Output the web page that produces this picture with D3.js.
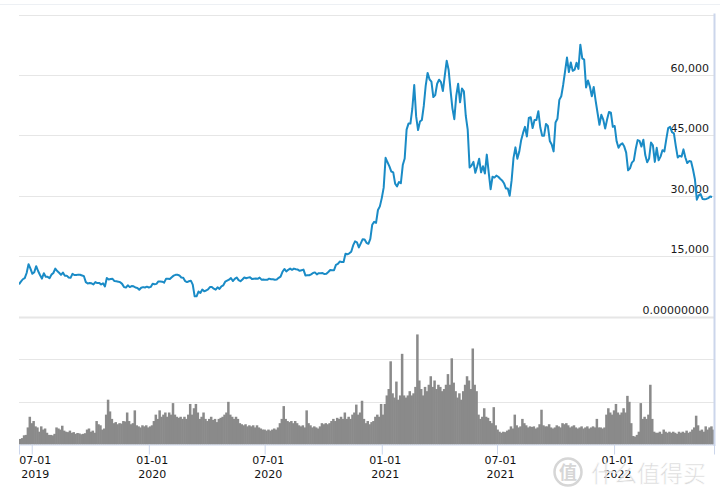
<!DOCTYPE html>
<html><head><meta charset="utf-8">
<script src="https://cdn.jsdelivr.net/npm/d3@7"></script>
<style>body{margin:0;background:#fff}svg{display:block}</style>
</head><body>
<svg id="chart" width="720" height="498"></svg>
<script>
// ---- data: 3-day samples starting 2019-06-11 ----
const startDate = "2019-06-11";
const stepDays = 3;
const price = [
 // 2019 Jun
 8000, 8650, 9250, 9530, 10800, 13000, 11900,
 // Jul
 10600, 11000, 12500, 11300, 10300, 9400, 10750, 9850, 9850, 9500,
 // Aug
 10400, 10800, 11900, 11300, 10850, 10350, 10900, 10100, 10150, 9700, 9600,
 // Sep
 10600, 10300, 10300, 10400, 10350, 10200, 10000, 8550, 8200, 8300,
 // Oct
 8250, 7950, 8550, 8300, 8350, 7950, 8250, 7450, 9550, 9200,
 // Nov
 9300, 9350, 8800, 8750, 8650, 8500, 8100, 7300, 7200, 7750,
 // Dec
 7300, 7550, 7500, 7200, 7100, 6650, 7150, 7300, 7200, 7400,
 // 2020 Jan
 7200, 7350, 8150, 8000, 8100, 8700, 8700, 8650, 8400, 9350, 9350,
 // Feb
 9300, 9750, 10150, 10350, 10350, 10200, 9700, 9650, 8800,
 // Mar
 8550, 8750, 8900, 7900, 5000, 5000, 6200, 5850, 6700, 6250, 6450,
 // Apr
 6750, 7300, 7300, 6900, 6650, 7250, 6850, 7500, 7750, 8650,
 // May
 8900, 9150, 9550, 8800, 9350, 9700, 9050, 8750, 9200, 9700,
 // Jun
 9500, 9650, 9750, 9300, 9400, 9450, 9350, 9650, 9150, 9200,
 // Jul
 9100, 9100, 9400, 9250, 9250, 9150, 9200, 9600, 9900, 11100,
 // Aug
 11800, 11200, 11600, 11900, 11600, 11900, 11750, 11650, 11350, 11500, 11650,
 // Sep
 10200, 10250, 10250, 10450, 10800, 10950, 10450, 10750, 10750, 10800,
 // Oct
 10550, 10600, 11050, 11550, 11500, 11500, 12800, 13050, 13650, 13550,
 // Nov
 13550, 15600, 15450, 15700, 16100, 17650, 18650, 18400, 17150, 18150,
 // Dec
 19200, 19150, 18300, 18050, 19250, 22800, 23500, 23250, 26450, 27350,
 // 2021 Jan
 29400, 32000, 39400, 38300, 37300, 36000, 35800, 33000, 32300, 33400, 33100,
 // Feb
 37600, 39250, 46400, 47900, 47900, 51600, 57500, 49700, 46300,
 // Mar
 48400, 48800, 52300, 57300, 60500, 58900, 58300, 54500, 55000, 57800,
 // Apr
 58800, 58200, 56000, 59800, 63500, 61300, 56200, 51700, 49000, 54800,
 // May
 57800, 53200, 56600, 55900, 49800, 46400, 37000, 37500, 38400, 35700, 37300,
 // Jun
 39200, 35800, 37300, 35500, 40200, 35800, 31600, 34700, 34500, 35000,
 // Jul
 34700, 34200, 33800, 33100, 31800, 31800, 30000, 33800, 39400, 42000,
 // Aug
 39200, 40900, 43800, 45600, 47100, 44700, 49300, 49500, 46800, 48800,
 // Sep
 48800, 51000, 47000, 44900, 44900, 47800, 47300, 43600, 42700, 41000,
 // Oct
 48200, 49100, 53800, 54700, 57500, 60900, 64300, 60700, 63100, 61000, 61300,
 // Nov
 63000, 61500, 67500, 64100, 63800, 56900, 58600, 57100, 54700, 57000,
 // Dec
 53600, 50600, 47600, 50100, 48900, 46700, 48900, 50800, 50600, 47100,
 // 2022 Jan
 47300, 43500, 41900, 42700, 43000, 42200, 40700, 36300, 36800, 38200,
 // Feb
 38700, 41600, 43800, 43600, 42200, 43900, 40100, 38300, 39200, 43200,
 // Mar
 42500, 38400, 41900, 38800, 39700, 41300, 41000, 44000, 46800, 47100,
 // Apr
 45800, 45500, 42300, 39500, 39900, 39700, 41500, 39500, 38100, 38600,
 // May
 38500, 36500, 34100, 29000, 30100, 30400, 29200, 29100, 29200, 29400,
 // Jun
 29800, 29700
];
const volume = [
 2.6,3,4.3,4.5,8,13,10,11,8.5,8,6,8.5,7,7.5,5.5,4.5,4.5,4.3,5,8,
 7.5,7,8.8,6.5,6,5.8,6.5,5.5,5.8,5,5.4,5.2,4.8,5,5.3,7,7.5,6,6.5,5.5,
 11,9.5,9,7,7.5,14,21,15.5,12,10,10.5,9.5,10,9.8,11,10.8,15,11,9.5,10,
 16,9,8.5,8,9,8.5,9,8,8.5,9,11,14,12,16,13,14,15,13,15,14,
 19.4,14,13,12.5,13,12,13,12,14,19,14,17,19,15,12,13,15,12,11,12,
 13,11.5,12,10.5,12,12.5,13,14,15,20,14,13,12,13,12,10,9.5,9,9.5,8.5,
 9,8.5,9,8,9,8,7.5,7,7,6.5,7,6.5,7,7.5,7,8,10,12,18,12,
 11,10.5,11,10,11,10,9,8.5,9,8,16,10,9,8,8.5,8,7.5,8.5,10,9.5,
 10,9.5,10,11,12,11,12.5,12,13,12,15,12,13,12,14,15,18.7,14,15,20.5,
 12,10,11,9.5,10.5,11,13,14,13,19,14,19,23,26,39,24,22,29.5,21,23,
 42.5,23,22,23,25,23,24,27,51.6,30,26,23,27,25,28,32,27,30,26,28,
 27,25,26,28,33,28,40.4,29,25,22,24,21,25,28,32,30,26,45,28,25,
 14,12,13,17,13,12.5,11,10,17.5,9,7,6,5.5,6,5.8,6.5,7,8.5,7.5,14,
 9,8,8.5,12,10,9,8,8.5,8.2,8.5,7.5,8,9.5,16.3,9,8.5,8.5,9.5,8,7.5,
 8,9,8.5,8,10,9.5,10,9,8,8.5,9,8,7.5,8,8.5,7.5,8,8.5,7.5,8,
 8.5,8,12,8,8,7.5,8,14,17,15,14,16,19,15,14,15,17,15,22.8,20,
 10,4,3.7,4.5,6,19.4,12,13,12,14,28,12,6,5.5,5.5,6,5,7,6,5.5,
 6,5.5,6,5.5,5,6,5.5,6,5.5,6.5,5.5,6,7,8,13.5,9,6.5,7,6,8.5,
 7,8,8.5,7
];
const priceTicks = [0, 15000, 30000, 45000, 60000, 75000];
const volumeTicks = [20, 40, 60];
const dateTicks = ["2019-07-01", "2020-01-01", "2020-07-01", "2021-01-01", "2021-07-01", "2022-01-01"];
const domainDates = ["2019-06-11", "2022-06-07"];

// ---- build ----
const parse = d3.utcParse("%Y-%m-%d");
const t0 = parse(startDate);
const dateAt = i => d3.utcDay.offset(t0, i * stepDays);
const priceData = price.map((v, i) => ({ date: dateAt(i), v }));
const volData = volume.map((v, i) => ({ date: dateAt(i), v }));

const svg = d3.select("#chart");
const L = 19, R = 714, priceTop = 14.5, priceBot = 316.5, volBot = 444.5;
const font = "'DejaVu Sans', Verdana, sans-serif";

const x = d3.scaleUtc().domain(domainDates.map(parse)).range([L, R]);
const y = d3.scaleLinear().domain([0, 75000]).range([priceBot, priceTop]);
const yv = d3.scaleLinear().domain([0, 60]).range([volBot, priceBot]);

// top border
svg.append("line").attr("x1", 0).attr("x2", 720).attr("y1", 4.5).attr("y2", 4.5)
  .attr("stroke", "#edf0f4").attr("stroke-width", 1);

// price gridlines
svg.append("g").selectAll("line").data(priceTicks).join("line")
  .attr("x1", L).attr("x2", R)
  .attr("y1", d => Math.round(y(d)) + 0.5).attr("y2", d => Math.round(y(d)) + 0.5)
  .attr("stroke", "#e6e6e6").attr("stroke-width", d => d === 0 ? 2 : 1);

// volume gridlines
svg.append("g").selectAll("line").data(volumeTicks.filter(d => d < 60)).join("line")
  .attr("x1", L).attr("x2", R)
  .attr("y1", d => Math.round(yv(d)) + 0.5).attr("y2", d => Math.round(yv(d)) + 0.5)
  .attr("stroke", "#e6e6e6").attr("stroke-width", 1);

// price labels
const fmt = d3.format(",");
svg.append("g").selectAll("text").data(priceTicks.filter(d => d < 75000)).join("text")
  .attr("x", 709).attr("y", d => y(d) - 3)
  .attr("text-anchor", "end").attr("font-family", font).attr("font-size", 11)
  .attr("fill", "#1a1a1a")
  .text(d => d === 0 ? "0.00000000" : fmt(d));

// volume bars
const bw = x(dateAt(1)) - x(dateAt(0));
svg.append("g").selectAll("rect").data(volData).join("rect")
  .attr("x", d => x(d.date))
  .attr("width", bw + 0.6)
  .attr("y", d => yv(d.v))
  .attr("height", d => volBot - yv(d.v))
  .attr("fill", "#8a8a8a");

// price line
svg.append("defs").append("clipPath").attr("id", "pclip")
  .append("rect").attr("x", L).attr("y", 0).attr("width", R - L + 2).attr("height", priceBot);
svg.append("path").datum(priceData)
  .attr("clip-path", "url(#pclip)")
  .attr("fill", "none").attr("stroke", "#1a8bc6").attr("stroke-width", 2)
  .attr("stroke-linejoin", "round")
  .attr("d", d3.line().x(d => x(d.date)).y(d => y(d.v)));

// right axis line
svg.append("line").attr("x1", R + 0.5).attr("x2", R + 0.5).attr("y1", 13.5).attr("y2", 446)
  .attr("stroke", "#ccd6eb").attr("stroke-width", 2);

// x axis
const xAxis = d3.axisBottom(x).tickValues(dateTicks.map(parse)).tickSize(10).tickFormat("");
const gx = svg.append("g").attr("transform", `translate(0,${volBot})`).call(xAxis);
gx.select(".domain").attr("stroke", "#ccd6eb").attr("stroke-width", 1);
gx.selectAll(".tick line").attr("stroke", "#ccd6eb");
const tf1 = d3.utcFormat("%m-%d"), tf2 = d3.utcFormat("%Y");
const lbl = svg.append("g").selectAll("text").data(dateTicks.map(parse)).join("text")
  .attr("font-family", font).attr("font-size", 11).attr("fill", "#111")
  .attr("text-anchor", "middle");
lbl.append("tspan").attr("x", d => x(d) + 3.5).attr("y", 464).text(tf1);
lbl.append("tspan").attr("x", d => x(d) + 3.5).attr("y", 478).text(tf2);

// watermark
const wm = svg.append("g").attr("opacity", 0.85);
wm.append("circle").attr("cx", 568).attr("cy", 472).attr("r", 13.5)
  .attr("fill", "none").attr("stroke", "#cfcfcf").attr("stroke-width", 2.5);
wm.append("text").attr("x", 568).attr("y", 479).attr("text-anchor", "middle")
  .attr("font-family", "'Noto Sans CJK SC'").attr("font-size", 18).attr("font-weight", "bold")
  .attr("fill", "#cfcfcf").text("值");
wm.append("text").attr("x", 591).attr("y", 482)
  .attr("font-family", "'Noto Sans CJK SC'").attr("font-size", 23)
  .attr("fill", "#d4d4d4").attr("stroke", "#fff").attr("stroke-width", 0.6).text("什么值得买");
</script>
</body></html>
